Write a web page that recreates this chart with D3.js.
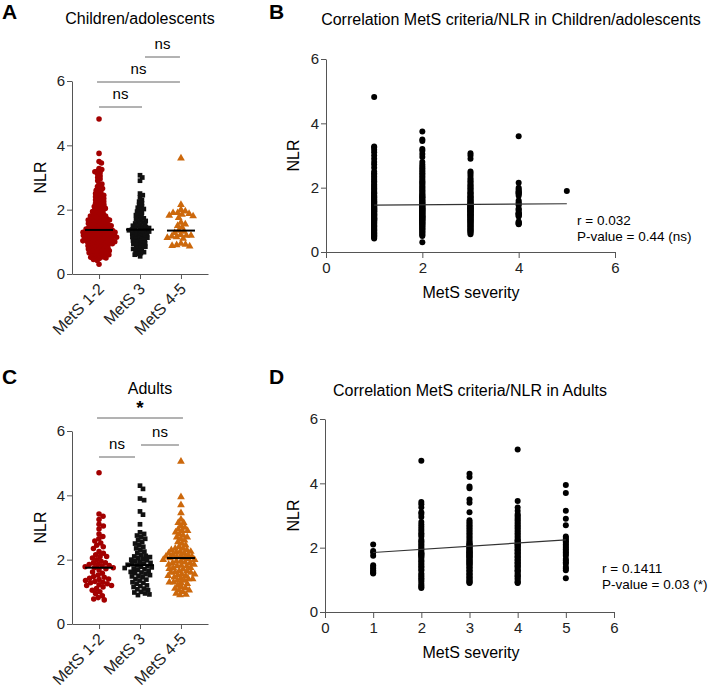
<!DOCTYPE html>
<html>
<head>
<meta charset="utf-8">
<script src="https://cdn.jsdelivr.net/npm/d3@7"></script>
<style>
  body { margin: 0; background: #fff; }
  svg { font-family: "Liberation Sans", Arial, sans-serif; }
  .axis path, .axis line { stroke: #555; }
  .axis text { font-size: 15px; fill: #222; font-family: "Liberation Sans", Arial, sans-serif; }
</style>
</head>
<body>
<div id="chart"></div>
<script>
// NLR values per MetS severity score (1..5)
const childSev1 = [0.42,0.45,0.48,0.5,0.52,0.55,0.58,0.6,0.62,0.65,0.68,0.7,0.72,0.75,0.78,0.8,0.82,0.85,0.88,0.9,
  0.92,0.95,0.96,0.98,1.0,1.0,1.02,1.04,1.05,1.06,1.08,1.1,1.12,1.14,1.15,1.17,1.18,1.2,1.22,1.24,
  1.25,1.27,1.28,1.3,1.32,1.33,1.35,1.36,1.38,1.4,1.41,1.43,1.45,1.47,1.5,1.52,1.54,1.56,1.58,1.6,
  1.63,1.65,1.68,1.7,1.73,1.76,1.8,1.83,1.86,1.9,1.94,1.98,2.02,2.06,2.1,2.15,2.2,2.25,2.3,2.35,
  2.4,2.45,2.5,2.62,2.72,2.8,2.9,3.0,3.1,3.18,3.25,3.28,4.82];
const childSev2 = [0.3,0.5,0.53,0.56,0.6,0.63,0.66,0.7,0.72,0.75,0.78,0.8,0.83,0.86,0.88,0.9,0.92,0.94,0.96,0.98,
  1.0,1.01,1.03,1.05,1.07,1.08,1.1,1.11,1.13,1.15,1.16,1.18,1.2,1.21,1.23,1.25,1.26,1.28,1.3,1.31,
  1.33,1.35,1.36,1.38,1.4,1.42,1.44,1.46,1.48,1.5,1.52,1.55,1.57,1.6,1.62,1.65,1.68,1.7,1.72,1.75,
  1.78,1.8,1.84,1.88,1.92,1.96,2.0,2.04,2.08,2.12,2.16,2.2,2.25,2.3,2.35,2.4,2.45,2.5,2.55,2.6,
  2.66,2.72,2.8,2.95,3.05,3.15,3.2,3.45,3.5,3.75];
const childSev3 = [0.55,0.6,0.62,0.65,0.68,0.7,0.72,0.75,0.78,0.8,0.82,0.85,0.87,0.9,0.92,0.94,0.96,0.98,1.0,1.02,
  1.04,1.06,1.08,1.1,1.12,1.13,1.15,1.17,1.18,1.2,1.22,1.24,1.25,1.27,1.28,1.3,1.32,1.33,1.35,1.36,
  1.37,1.38,1.4,1.41,1.43,1.45,1.47,1.48,1.5,1.52,1.55,1.57,1.6,1.62,1.65,1.68,1.7,1.73,1.76,1.8,
  1.83,1.86,1.9,1.94,1.98,2.02,2.06,2.1,2.15,2.2,2.25,2.3,2.38,2.45,2.5,2.9,3.0,3.07];
const childSev4 = [0.86,0.88,0.9,0.92,0.95,1.1,1.13,1.15,1.17,1.2,1.2,1.22,1.28,1.32,1.35,1.45,1.5,1.55,1.6,
  1.75,1.8,1.82,1.85,1.87,1.9,1.95,2.0,2.15,3.6];
const childSev5 = [1.9];

const adultSev1 = [1.2,1.22,1.25,1.3,1.35,1.4,1.45,1.75,1.85,1.9,2.1];
const adultSev2 = [0.75,0.78,0.82,0.88,0.95,1.0,1.05,1.1,1.15,1.2,1.28,1.32,1.38,1.42,1.48,1.52,1.58,1.62,1.68,1.72,
  1.75,1.78,1.8,1.82,1.85,1.9,1.95,2.0,2.05,2.1,2.15,2.2,2.25,2.35,2.4,2.45,2.52,2.58,2.65,2.72,
  2.8,2.95,3.05,3.1,3.25,3.35,3.42,4.7];
const adultSev3 = [0.9,0.92,0.95,0.98,1.0,1.05,1.08,1.1,1.15,1.18,1.2,1.25,1.28,1.3,1.35,1.38,1.4,1.45,1.48,1.5,
  1.52,1.55,1.58,1.6,1.62,1.65,1.68,1.7,1.72,1.74,1.76,1.78,1.8,1.82,1.84,1.86,1.88,1.9,1.92,1.95,
  1.98,2.0,2.02,2.05,2.08,2.1,2.12,2.15,2.2,2.25,2.3,2.35,2.4,2.45,2.5,2.55,2.6,2.65,2.7,2.75,
  2.8,2.85,3.1,3.4,3.5,3.85,3.9,4.2,4.3];
const adultSev4 = [0.9,0.92,0.95,1.0,1.05,1.1,1.12,1.15,1.2,1.25,1.28,1.3,1.35,1.4,1.42,1.45,1.5,1.52,1.55,1.6,
  1.62,1.65,1.7,1.72,1.75,1.8,1.82,1.85,1.9,1.92,1.95,2.0,2.02,2.05,2.08,2.1,2.12,2.15,2.2,2.22,
  2.25,2.3,2.35,2.4,2.45,2.5,2.55,2.6,2.65,2.7,2.75,2.8,2.85,2.9,2.95,3.0,3.05,3.15,3.25,3.45,5.05];
const adultSev5 = [1.05,1.3,1.35,1.4,1.5,1.55,1.6,1.65,1.75,1.8,1.85,1.9,1.95,2.0,2.05,2.1,2.15,2.2,2.25,2.3,
  2.35,2.7,2.9,3.15,3.7,3.95];

const groups = ["MetS 1-2", "MetS 3", "MetS 4-5"];
const groupColors = ["#a30000", "#111111", "#cc680c"];
const mediansChild = [1.37, 1.38, 1.35];
const mediansAdult = [1.75, 1.83, 2.05];
const yTicks = [0, 2, 4, 6];
const xTicksB = [0, 2, 4, 6];
const xTicksD = [0, 1, 2, 3, 4, 5, 6];
// regression lines: NLR at severity 1 and 5
const fitChild = [[1, 1.46], [5, 1.50]];
const fitAdult = [[1, 1.85], [5, 2.24]];
// comparison brackets: [from group, to group, label]
const bracketsChild = [[0, 1, "ns"], [0, 2, "ns"], [1, 2, "ns"]];
const bracketsAdult = [[0, 1, "ns"], [1, 2, "ns"], [0, 2, "*"]];

const W = 708, H = 691;
const svg = d3.select("#chart").append("svg").attr("width", W).attr("height", H);
const fmt = d3.format("d");

// simple beeswarm: place each value as close to the centre as it can go
function swarm(values, diam) {
  const placed = [];
  values.slice().sort((a, b) => a.py - b.py).forEach(p => {
    const near = placed.filter(q => Math.abs(q.py - p.py) < diam);
    let cands = [0];
    near.forEach(q => {
      const dx = Math.sqrt(diam * diam - (q.py - p.py) ** 2);
      cands.push(q.dx + dx, q.dx - dx);
    });
    cands.sort((a, b) => Math.abs(a) - Math.abs(b));
    for (const c of cands) {
      const ok = near.every(q => (q.dx - c) ** 2 + (q.py - p.py) ** 2 >= diam * diam - 0.01);
      if (ok) { p.dx = c; break; }
    }
    placed.push(p);
  });
  return placed;
}

function letter(x, y, t) {
  svg.append("text").attr("x", x).attr("y", y).attr("font-size", 21)
    .attr("font-weight", "bold").text(t);
}

function dotPanel(o) {
  const g = svg.append("g");
  const x = d3.scalePoint().domain(groups).range([72, 208]).padding(0.66);
  const y = d3.scaleLinear().domain([0, 6]).range([o.top + 193, o.top]);

  g.append("g").attr("class", "axis").attr("transform", `translate(72,0)`)
    .call(d3.axisLeft(y).tickValues(yTicks).tickFormat(fmt).tickSize(5).tickSizeOuter(0).tickPadding(2));
  g.append("g").attr("class", "axis").attr("transform", `translate(0,${y(0)})`)
    .call(d3.axisBottom(x).tickSize(5).tickSizeOuter(0).tickFormat(""));
  groups.forEach(name => {
    g.append("text").attr("font-size", 16).attr("fill", "#222")
      .attr("text-anchor", "end")
      .attr("transform", `translate(${x(name) + 6},${y(0) + 16}) rotate(-45)`)
      .text(name);
  });

  g.append("text").attr("font-size", 16)
    .attr("transform", `translate(46,${y(3)}) rotate(-90)`)
    .attr("text-anchor", "middle").text("NLR");
  g.append("text").attr("x", o.titleX).attr("y", o.titleY).attr("font-size", 16)
    .attr("text-anchor", "middle").text(o.title);

  const shapes = [d3.symbolCircle, d3.symbolSquare, d3.symbolTriangle];
  const sizes = [24, 22, 26];
  o.data.forEach((vals, i) => {
    const pts = swarm(vals.map(v => ({ v, py: y(v) })), o.diam[i]);
    g.append("g").selectAll("path").data(pts).join("path")
      .attr("d", d3.symbol(shapes[i], sizes[i]))
      .attr("transform", d => `translate(${x(groups[i]) + d.dx},${d.py})`)
      .attr("fill", groupColors[i]);
    g.append("line")
      .attr("x1", x(groups[i]) - 14).attr("x2", x(groups[i]) + 14)
      .attr("y1", y(o.medians[i])).attr("y2", y(o.medians[i]))
      .attr("stroke", "#000").attr("stroke-width", 2);
  });

  o.brackets.forEach((b, k) => {
    const by = o.bracketY[k];
    const x1 = x(groups[b[0]]) + o.bracketPad[k][0];
    const x2 = x(groups[b[1]]) + o.bracketPad[k][1];
    g.append("line").attr("x1", x1).attr("x2", x2).attr("y1", by).attr("y2", by)
      .attr("stroke", "#666").attr("stroke-width", 1);
    g.append("text").attr("x", (x1 + x2) / 2).attr("y", b[2] === "*" ? by - 4 : by - 8)
      .attr("text-anchor", "middle")
      .attr("font-size", b[2] === "*" ? 19 : 15).attr("font-weight", b[2] === "*" ? "bold" : "normal")
      .text(b[2]);
  });
}

function scatterPanel(o) {
  const g = svg.append("g");
  const x = d3.scaleLinear().domain([0, 6]).range([o.left, o.left + 289]);
  const y = d3.scaleLinear().domain([0, 6]).range([o.top + 193, o.top]);
  g.append("g").attr("class", "axis").attr("transform", `translate(${o.left},0)`)
    .call(d3.axisLeft(y).tickValues(yTicks).tickFormat(fmt).tickSize(5).tickSizeOuter(0).tickPadding(2));
  g.append("g").attr("class", "axis").attr("transform", `translate(0,${y(0)})`)
    .call(d3.axisBottom(x).tickValues(o.xTicks).tickFormat(fmt).tickSize(6).tickSizeOuter(0).tickPadding(4));

  const pts = [];
  o.data.forEach((vals, i) => vals.forEach(v => pts.push([i + 1, v])));
  g.append("g").selectAll("circle").data(pts).join("circle")
    .attr("cx", d => x(d[0])).attr("cy", d => y(d[1])).attr("r", 3).attr("fill", "#000");

  g.append("line")
    .attr("x1", x(o.fit[0][0])).attr("y1", y(o.fit[0][1]))
    .attr("x2", x(o.fit[1][0])).attr("y2", y(o.fit[1][1]))
    .attr("stroke", "#333").attr("stroke-width", 1.2);

  g.append("text").attr("font-size", 16)
    .attr("transform", `translate(299,${y(3)}) rotate(-90)`)
    .attr("text-anchor", "middle").text("NLR");
  g.append("text").attr("x", 471).attr("y", y(0) + 46).attr("font-size", 16)
    .attr("text-anchor", "middle").text("MetS severity");
  g.append("text").attr("x", o.titleX).attr("y", o.titleY).attr("font-size", 16)
    .attr("text-anchor", "middle").text(o.title);
  o.stats.forEach((s, k) => {
    g.append("text").attr("x", o.statX).attr("y", o.statY + k * 16)
      .attr("font-size", 13.5).text(s);
  });
}

letter(2, 19, "A");
dotPanel({
  top: 81, title: "Children/adolescents", titleX: 140, titleY: 24,
  data: [childSev1.concat(childSev2), childSev3, childSev4.concat(childSev5)],
  medians: mediansChild, diam: [2.9, 3.2, 4.6],
  brackets: bracketsChild, bracketY: [107, 82, 57],
  bracketPad: [[0, 2], [-2, -1], [5, -1]]
});

letter(269, 19, "B");
scatterPanel({
  left: 326, top: 59, title: "Correlation MetS criteria/NLR in Children/adolescents",
  titleX: 511, titleY: 25, xTicks: xTicksB,
  data: [childSev1, childSev2, childSev3, childSev4, childSev5],
  fit: fitChild, stats: ["r = 0.032", "P-value = 0.44 (ns)"], statX: 577, statY: 225
});

letter(2, 384, "C");
dotPanel({
  top: 431, title: "Adults", titleX: 150, titleY: 394,
  data: [adultSev1.concat(adultSev2), adultSev3, adultSev4.concat(adultSev5)],
  medians: mediansAdult, diam: [4.6, 4.4, 4.2],
  brackets: bracketsAdult, bracketY: [457, 445, 418],
  bracketPad: [[0, -5], [1, -2], [-2, 2]]
});

letter(269, 384, "D");
scatterPanel({
  left: 325, top: 419, title: "Correlation MetS criteria/NLR in Adults",
  titleX: 470, titleY: 396, xTicks: xTicksD,
  data: [adultSev1, adultSev2, adultSev3, adultSev4, adultSev5],
  fit: fitAdult, stats: ["r = 0.1411", "P-value = 0.03 (*)"], statX: 602, statY: 573
});
</script>
</body>
</html>
